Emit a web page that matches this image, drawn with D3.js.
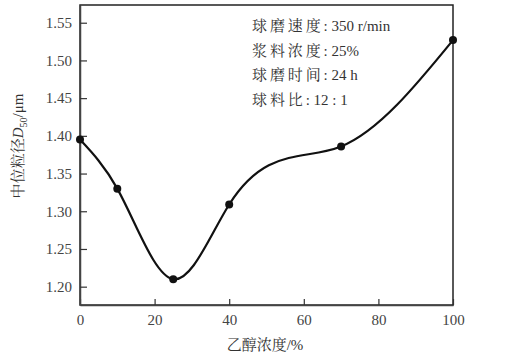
<!DOCTYPE html>
<html><head><meta charset="utf-8">
<script src="https://cdn.jsdelivr.net/npm/d3@7"></script>
<style>
body{margin:0;background:#fff;}
text{font-family:"Liberation Serif","Noto Serif CJK SC","Noto Sans CJK SC",serif;}
</style></head>
<body><svg id="c" width="510" height="356"></svg>
<script>
const xValues = [0, 10, 25, 40, 70, 100];
const yValues = [1.395, 1.33, 1.21, 1.309, 1.386, 1.527];
const xTicks = [0, 20, 40, 60, 80, 100];
const yTicks = [1.20, 1.25, 1.30, 1.35, 1.40, 1.45, 1.50, 1.55];
const noteLabels = ["球磨速度", "浆料浓度", "球磨时间", "球料比"];
const noteValues = ["350 r/min", "25%", "24 h", "12 : 1"];
const xTitle = "乙醇浓度/%";

// Custom d3 curve: natural cubic spline of y as a function of x (emitted as Bezier segments)
function CurveNaturalX(context) { this._context = context; }
CurveNaturalX.prototype = {
  areaStart() { this._line = 0; }, areaEnd() { this._line = NaN; },
  lineStart() { this._x = []; this._y = []; },
  point(x, y) { this._x.push(+x); this._y.push(+y); },
  lineEnd() {
    const X = this._x, Y = this._y, n = X.length, c = this._context;
    if (!n) return;
    c.moveTo(X[0], Y[0]);
    if (n === 2) { c.lineTo(X[1], Y[1]); return; }
    const h = [], d = [];
    for (let i = 0; i < n - 1; i++) { h.push(X[i + 1] - X[i]); d.push((Y[i + 1] - Y[i]) / h[i]); }
    const m = n - 2, a = [], b = [], cc = [], r = [];
    for (let k = 0; k < m; k++) {
      const i = k + 1;
      a.push(h[i - 1]); b.push(2 * (h[i - 1] + h[i])); cc.push(h[i]); r.push(6 * (d[i] - d[i - 1]));
    }
    for (let k = 1; k < m; k++) { const w = a[k] / b[k - 1]; b[k] -= w * cc[k - 1]; r[k] -= w * r[k - 1]; }
    const M = new Array(n).fill(0);
    for (let k = m - 1; k >= 0; k--) M[k + 1] = (r[k] - (k < m - 1 ? cc[k] * M[k + 2] : 0)) / b[k];
    for (let i = 0; i < n - 1; i++) {
      const s0 = d[i] - h[i] * (2 * M[i] + M[i + 1]) / 6;
      const s1 = d[i] + h[i] * (M[i] + 2 * M[i + 1]) / 6;
      c.bezierCurveTo(X[i] + h[i] / 3, Y[i] + s0 * h[i] / 3,
                      X[i + 1] - h[i] / 3, Y[i + 1] - s1 * h[i] / 3, X[i + 1], Y[i + 1]);
    }
  }
};
const curveNaturalX = context => new CurveNaturalX(context);

const svg = d3.select("#c");
const L = 80, R = 453, T = 5, B = 305;
const x = d3.scaleLinear().domain([0, 100]).range([L, R]);
const y = d3.scaleLinear().domain([1.1757, 1.5735]).range([B, T]);

// frame
svg.append("rect").attr("x", L).attr("y", T).attr("width", R - L).attr("height", B - T)
  .attr("fill", "none").attr("stroke", "#222").attr("stroke-width", 1.5);

const xa = svg.append("g").attr("transform", `translate(0,${B})`)
  .call(d3.axisBottom(x).tickValues(xTicks).tickSizeInner(-6).tickSizeOuter(0).tickPadding(8).tickFormat(d3.format("d")));
const ya = svg.append("g").attr("transform", `translate(${L},0)`)
  .call(d3.axisLeft(y).tickValues(yTicks).tickSizeInner(-7).tickSizeOuter(0).tickPadding(8).tickFormat(d3.format(".2f")));
[xa, ya].forEach(a => {
  a.select(".domain").attr("stroke", "#444").attr("stroke-width", 1.5);
  a.selectAll(".tick line").attr("stroke", "#333").attr("stroke-width", 1.2);
  a.selectAll(".tick text").attr("font-size", 15).attr("fill", "#444")
    .attr("font-family", "Liberation Serif, serif");
});
xa.selectAll(".tick text").attr("dy", "0.8em");

const pts = xValues.map((v, i) => [v, yValues[i]]);
const line = d3.line().x(d => x(d[0])).y(d => y(d[1])).curve(curveNaturalX);
svg.append("path").attr("d", line(pts)).attr("fill", "none").attr("stroke", "#111").attr("stroke-width", 2.2);
svg.selectAll("circle.p").data(pts).enter().append("circle")
  .attr("cx", d => x(d[0])).attr("cy", d => y(d[1])).attr("r", 4).attr("fill", "#111");

// notes
const nx = 252;
noteLabels.forEach((lab, i) => {
  const t = svg.append("text").attr("x", nx).attr("y", 31 + i * 24.5)
    .attr("font-size", 15).attr("fill", "#333");
  t.append("tspan").attr("letter-spacing", "2.9px").text(lab);
  t.append("tspan").text(": " + noteValues[i]);
});

// x title
svg.append("text").attr("x", 265).attr("y", 350).attr("text-anchor", "middle")
  .attr("font-size", 15).attr("fill", "#333").text(xTitle);

// y title
const yt = svg.append("text").attr("transform", "translate(23,146) rotate(-90)")
  .attr("text-anchor", "middle").attr("font-size", 15).attr("fill", "#333");
yt.append("tspan").text("中位粒径");
yt.append("tspan").attr("font-style", "italic").text("D");
yt.append("tspan").attr("font-size", 10).attr("dy", 4).text("50");
yt.append("tspan").attr("dy", -4).text("/μm");
</script></body></html>
